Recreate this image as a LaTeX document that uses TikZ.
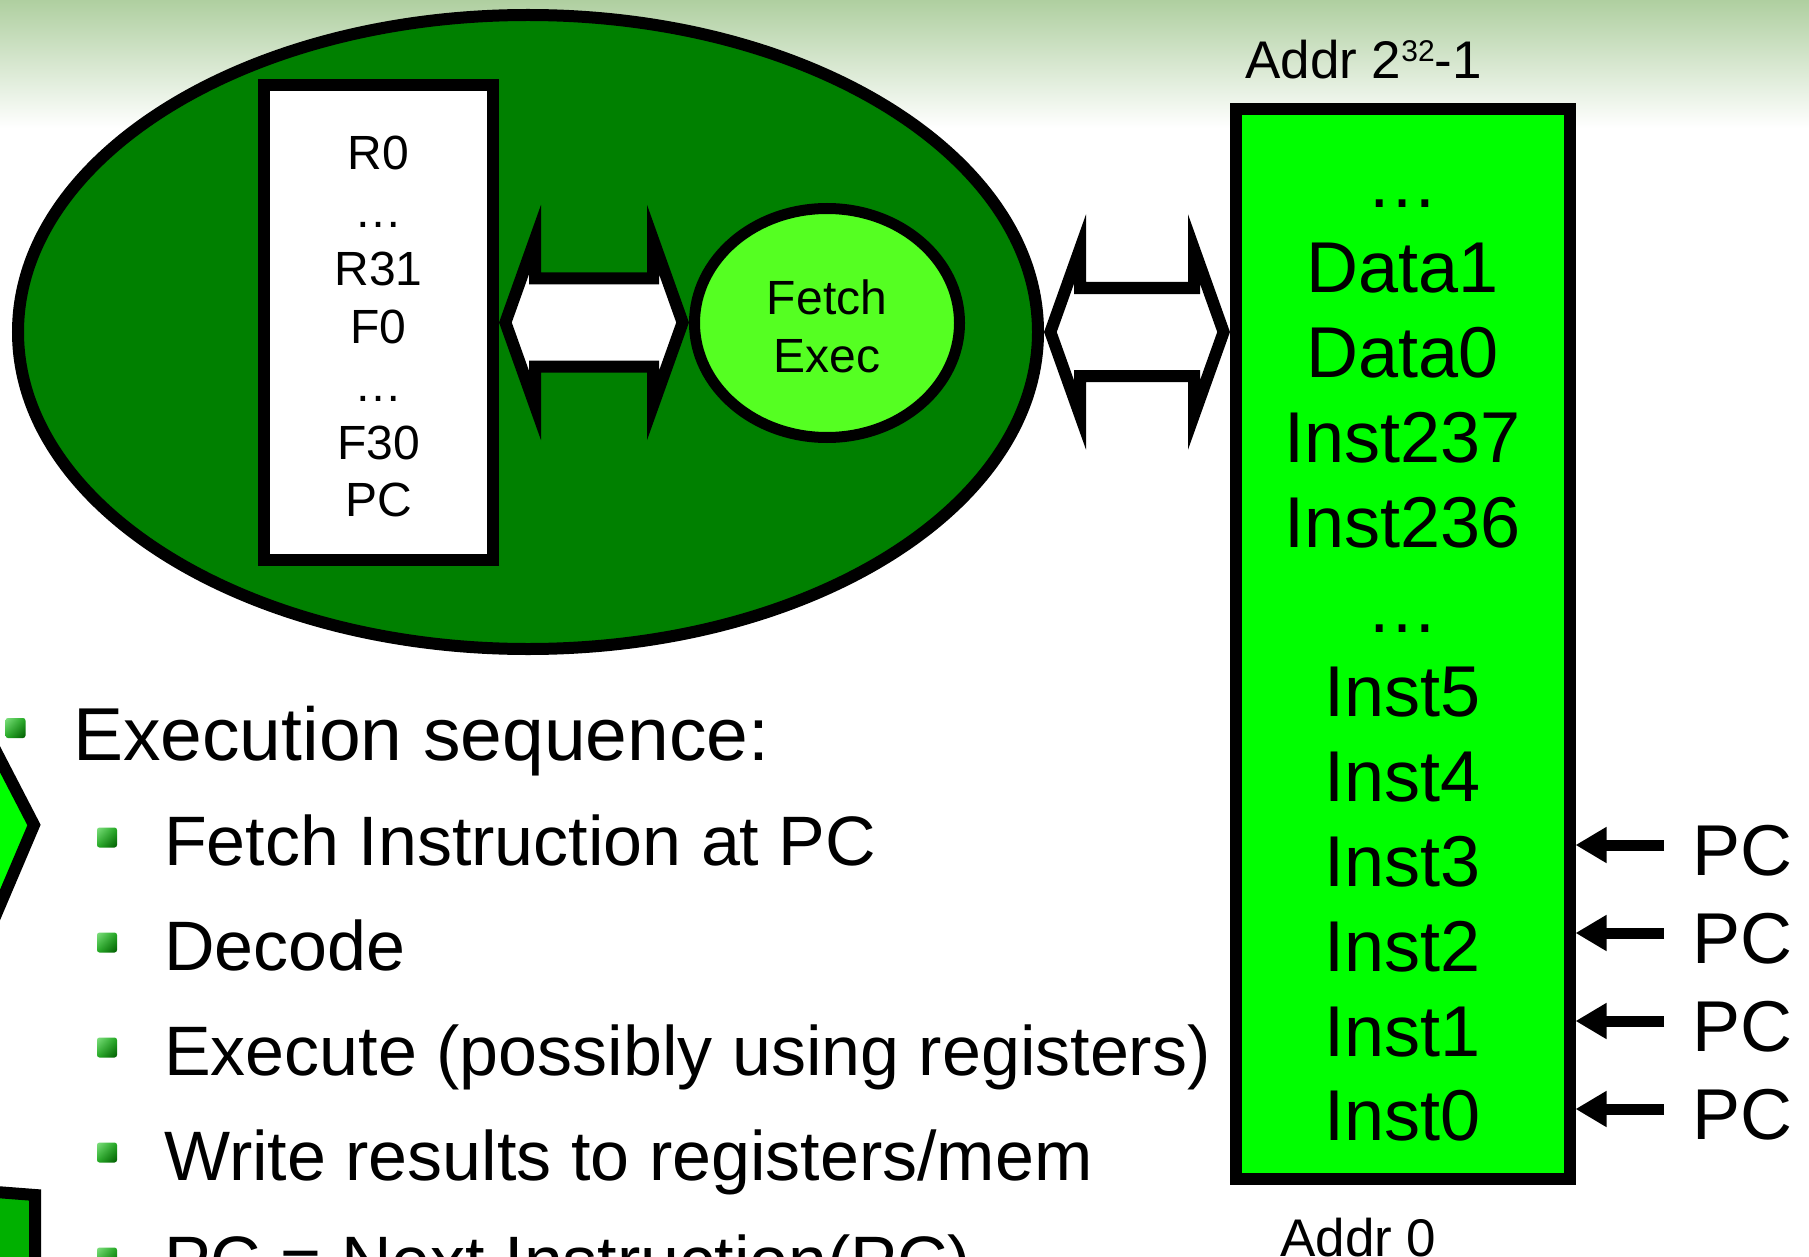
\documentclass[tikz,border=0pt]{standalone}
\usepackage{fontspec}
\setmainfont{Liberation Sans}
\usetikzlibrary{shapes.geometric, arrows.meta, calc, shadings}

\definecolor{cpugreen}{HTML}{008000}
\definecolor{fegreen}{HTML}{55FF22}
\definecolor{memgreen}{HTML}{00FF00}
\definecolor{darkgreen}{HTML}{00B000}
\definecolor{bgtop}{HTML}{AFCFA0}
\definecolor{bulA}{HTML}{80E080}
\definecolor{bulB}{HTML}{22A822}
\definecolor{bulC}{HTML}{005A00}

% hollow double-headed arrow between two anchors (tips at the anchors)
\newcommand{\dblarrow}[2]{%
  \draw[hollowarrow] let \p1=(#1), \p2=(#2) in
    (\x1+6.4pt,\y1) -- (\x1+36pt,\y1+83pt) -- (\x1+36pt,\y1+44pt)
    -- (\x2-36pt,\y1+44pt) -- (\x2-36pt,\y1+83pt) -- (\x2-6.4pt,\y1)
    -- (\x2-36pt,\y1-83pt) -- (\x2-36pt,\y1-44pt) -- (\x1+36pt,\y1-44pt)
    -- (\x1+36pt,\y1-83pt) -- cycle;}

\begin{document}
\begin{tikzpicture}[x=1pt, y=-1pt,
  hollowarrow/.style={draw=black, fill=white, line width=12pt, line join=miter, miter limit=20},
  regtext/.style={anchor=base, inner sep=0pt, font=\fontsize{48}{56}\selectfont},
  memtext/.style={anchor=base, inner sep=0pt, font=\fontsize{72}{84}\selectfont},
  pctext/.style={anchor=base west, inner sep=0pt, font=\fontsize{72}{84}\selectfont},
  addrtext/.style={anchor=base west, inner sep=0pt, font=\fontsize{53}{60}\selectfont},
  toptext/.style={anchor=base west, inner sep=0pt, font=\fontsize{75}{86}\selectfont},
  subtext/.style={anchor=base west, inner sep=0pt, font=\fontsize{70}{80}\selectfont},
  pcarrow/.style={line width=11pt, -{Triangle[length=31pt, width=34pt]}},
  bulletsq/.style={rounded corners=2.5pt, upper left=bulA, upper right=bulB, lower left=bulB, lower right=bulC}
]
\useasboundingbox (0,0) rectangle (1809,1257);
\clip (0,0) rectangle (1809,1257);

% page background with the green fade at the top
\fill[white] (0,0) rectangle (1809,1257);
\shade[top color=bgtop, bottom color=white] (0,0) rectangle (1809,128);

% processor
\node[ellipse, draw, line width=12pt, fill=cpugreen, minimum width=1020pt, minimum height=634pt, inner sep=0pt] (cpu) at (528,332) {};
\node[rectangle, draw, line width=12pt, fill=white, minimum width=229pt, minimum height=475pt, inner sep=0pt] (regs) at (378.5,322.5) {};
\node[ellipse, draw, line width=11pt, fill=fegreen, minimum width=265pt, minimum height=229pt, inner sep=0pt] (fe) at (827,323) {};

\foreach \t [count=\i] in {R0,…,R31,F0,…,F30,PC}
  \node[regtext] (r\i) at ({378.5},{170+57.8*(\i-1)}) {\t};

\node[regtext] (fetch) at (827,314) {Fetch};
\node[regtext] (exec) at (827,372) {Exec};

% memory
\node[draw, line width=12pt, fill=memgreen, minimum width=333.5pt, minimum height=1070pt, inner sep=0pt] (mem) at (1402.75,644) {};
\foreach \t [count=\i] in {…,Data1,Data0,Inst237,Inst236,…,Inst5,Inst4,Inst3,Inst2,Inst1,Inst0}
  \node[memtext] (m\i) at ({1402.75},{208+84.8*(\i-1)}) {\t};

% register file <-> fetch/exec, processor <-> memory
\dblarrow{regs.east}{fe.west}
\dblarrow{cpu.east}{mem.west |- cpu.east}

\node[addrtext] (addrtop) at (1245,79) {Addr 2\raisebox{17pt}{\fontsize{30}{30}\selectfont 32}-1};
\node[addrtext] (addrbot) at (1280,1256) {Addr 0};

% program counter positions
\foreach \i in {0,1,2,3} {
  \node[pctext] (pc\i) at ({1692},{875+88*\i}) {PC};
  \coordinate (pa\i) at ({1664},{845+88*\i});
  \draw[pcarrow] (pa\i) -- (mem.east |- pa\i);
}

% shapes at the left edge
\draw[line width=12pt, fill=memgreen, line join=miter] (-60,660) -- (-40,682) -- (34,825) -- (-40,999) -- (-60,1020) -- cycle;
\draw[line width=12pt, fill=darkgreen, line join=miter] (-30,1190) -- (35,1195) -- (35,1300) -- (-30,1300) -- cycle;

% bullet list
\foreach \bx/\by [count=\i] in {15.5/728, 107/837.5, 107/942.5, 107/1047.5, 107/1152.5, 107/1257.5}
  \shade[bulletsq] ({\bx-10},{\by-10}) rectangle ({\bx+10},{\by+10});

\node[toptext] (seq) at (73,760) {Execution sequence:};
\node[subtext] (s1) at (164,865) {Fetch Instruction at PC};
\node[subtext] (s2) at (164,970) {Decode};
\node[subtext] (s3) at (164,1075) {Execute (possibly using registers)};
\node[subtext] (s4) at (164,1180) {Write results to registers/mem};
\node[subtext] (s5) at (164,1285) {PC = Next Instruction(PC)};
\end{tikzpicture}
\end{document}
